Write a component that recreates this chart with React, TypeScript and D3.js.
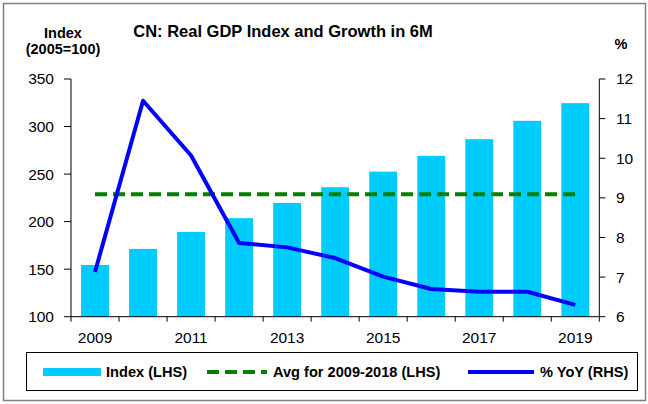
import React from "react";
import * as d3 from "d3";

const years = ["2009","2010","2011","2012","2013","2014","2015","2016","2017","2018","2019"];
const indexValues = [154.4,171.3,189.2,203.6,219.7,236.2,252.6,269.2,286.7,306.0,324.6];
const yoyValues = [7.13,11.45,10.07,7.86,7.75,7.48,7.01,6.70,6.63,6.63,6.30];
const leftTicks = [100,150,200,250,300,350];
const rightTicks = [6,7,8,9,10,11,12];
const xLabelYears = ["2009","2011","2013","2015","2017","2019"];
const avgYears = ["2009","2018"];
const legendLabels = ["Index (LHS)","Avg for 2009-2018 (LHS)","% YoY (RHS)"];
const title = "CN: Real GDP Index and Growth in 6M";

const W = 648, H = 404;
const FONT = "Liberation Sans, Arial, sans-serif";

export default function App() {
  const left = 71, right = 599.3, top = 79, bottom = 316.7;
  const x = d3.scaleBand<string>().domain(years).range([left, right]).paddingInner(0.42).paddingOuter(0.21);
  const yL = d3.scaleLinear().domain([100, 350]).range([bottom, top]);
  const yR = d3.scaleLinear().domain([6, 12]).range([bottom, top]);
  const step = x.step();
  const cx = (y: string) => (x(y) as number) + x.bandwidth() / 2;

  const avgIdx = years.indexOf(avgYears[1]);
  const avg = d3.mean(indexValues.slice(0, avgIdx + 1)) as number;

  const line = d3.line<number>().x((_, i) => cx(years[i])).y((d) => yR(d));

  return (
    <svg width={W} height={H} style={{ position: "absolute", left: 0, top: 0, fontFamily: FONT }}>
      <rect x={0} y={0} width={W} height={H} fill="#fff" />
      <rect x={3.5} y={3.5} width={642} height={397} fill="none" stroke="#808080" strokeWidth={1.5} />

      <text x={283} y={37} textAnchor="middle" fontSize={16.5} fontWeight="bold" fill="#000">{title}</text>
      <text x={63} y={38} textAnchor="middle" fontSize={14.5} fontWeight="bold">Index</text>
      <text x={63} y={54} textAnchor="middle" fontSize={14.5} fontWeight="bold">(2005=100)</text>
      <text x={621} y={49} textAnchor="middle" fontSize={14.5} fontWeight="bold">%</text>

      {years.map((yr, i) => (
        <rect key={yr} x={x(yr)} y={yL(indexValues[i])} width={x.bandwidth()} height={bottom - yL(indexValues[i])} fill="#00CCFF" />
      ))}

      {/* left axis */}
      <line x1={left} x2={left} y1={top} y2={bottom} stroke="#000" />
      {leftTicks.map((t) => (
        <g key={t}>
          <line x1={left - 7} x2={left} y1={yL(t)} y2={yL(t)} stroke="#000" />
          <text x={54} y={yL(t)} dy="0.35em" textAnchor="end" fontSize={15.5}>{t}</text>
        </g>
      ))}
      {/* right axis */}
      <line x1={right} x2={right} y1={top} y2={bottom} stroke="#000" />
      {rightTicks.map((t) => (
        <g key={t}>
          <line x1={right} x2={right + 6} y1={yR(t)} y2={yR(t)} stroke="#000" />
          <text x={616} y={yR(t)} dy="0.35em" textAnchor="start" fontSize={15.5}>{t}</text>
        </g>
      ))}
      {/* x axis */}
      <line x1={left} x2={right} y1={bottom} y2={bottom} stroke="#000" />
      {d3.range(years.length + 1).map((i) => (
        <line key={i} x1={left + step * i} x2={left + step * i} y1={bottom} y2={bottom + 5} stroke="#000" />
      ))}
      {xLabelYears.map((yr) => (
        <text key={yr} x={cx(yr)} y={343} textAnchor="middle" fontSize={15.5}>{yr}</text>
      ))}

      <line x1={cx(years[0])} x2={cx(years[years.length - 1])} y1={yL(avg)} y2={yL(avg)} stroke="#008000" strokeWidth={4} strokeDasharray="12 6" />
      <path d={line(yoyValues) as string} fill="none" stroke="#0000FF" strokeWidth={4} strokeLinejoin="round" />

      {/* legend */}
      <rect x={26.5} y={352.5} width={611} height={38} fill="none" stroke="#000" />
      <rect x={43} y={368} width={58} height={8} fill="#00CCFF" />
      <text x={106} y={377} fontSize={14.6} fontWeight="bold">{legendLabels[0]}</text>
      <line x1={207} x2={267} y1={372} y2={372} stroke="#008000" strokeWidth={4} strokeDasharray="12 6" />
      <text x={273} y={377} fontSize={14.6} fontWeight="bold">{legendLabels[1]}</text>
      <line x1={468} x2={534} y1={372} y2={372} stroke="#0000FF" strokeWidth={4} />
      <text x={540} y={377} fontSize={14.6} fontWeight="bold">{legendLabels[2]}</text>
    </svg>
  );
}
